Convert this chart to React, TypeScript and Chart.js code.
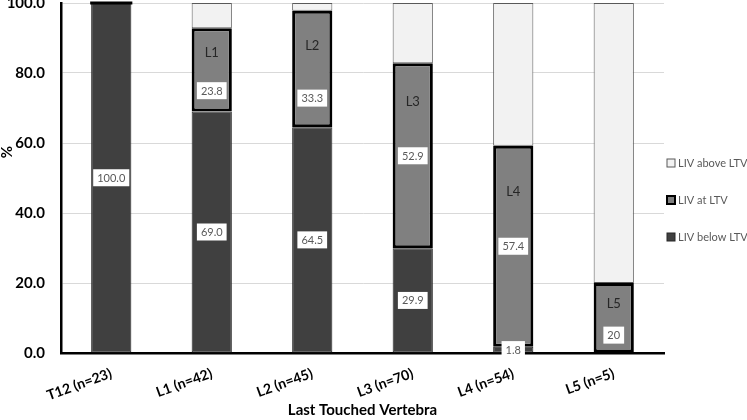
import React, { useEffect, useRef } from "react";
import { Chart, registerables } from "chart.js";

Chart.register(...registerables);

const categories = ["T12 (n=23)", "L1 (n=42)", "L2 (n=45)", "L3 (n=70)", "L4 (n=54)", "L5 (n=5)"];
const livBelow = [100.0, 69.0, 64.5, 29.9, 1.8, 0];
const livAt = [0, 23.8, 33.3, 52.9, 57.4, 20];
const livAbove = [0, 7.2, 2.2, 17.2, 40.8, 80];
const levelNames = ["", "L1", "L2", "L3", "L4", "L5"];
const belowText = ["100.0", "69.0", "64.5", "29.9", "1.8", ""];
const atText = ["", "23.8", "33.3", "52.9", "57.4", "20"];
const yTicks = [0, 20, 40, 60, 80, 100];
const seriesNames = ["LIV below LTV", "LIV at LTV", "LIV above LTV"];
const yTitle = "%";
const xTitle = "Last Touched Vertebra";

const FONT = "Lato, 'Open Sans', 'DejaVu Sans', sans-serif";

const annotate = {
  id: "annotate",
  afterDatasetsDraw(chart: any) {
    const ctx = chart.ctx;
    const below = chart.getDatasetMeta(0).data;
    const at = chart.getDatasetMeta(1).data;
    ctx.save();
    at.forEach((el: any, i: number) => {
      if (livAt[i] === 0) {
        const { x, y, width } = el.getProps(["x", "y", "width"], true);
        ctx.strokeStyle = "#000";
        ctx.lineWidth = 3;
        ctx.beginPath();
        ctx.moveTo(x - width / 2 - 1, y);
        ctx.lineTo(x + width / 2 + 1, y);
        ctx.stroke();
      }
    });
    const box = (text: string, x: number, y: number) => {
      ctx.font = `11px ${FONT}`;
      const w = ctx.measureText(text).width + 8;
      const h = 17;
      ctx.fillStyle = "#ffffff";
      ctx.fillRect(x - w / 2, y - h / 2, w, h);
      ctx.fillStyle = "#595959";
      ctx.textAlign = "center";
      ctx.textBaseline = "middle";
      ctx.fillText(text, x, y + 0.5);
    };
    below.forEach((el: any, i: number) => {
      if (!belowText[i]) return;
      const { x, y, base } = el.getProps(["x", "y", "base"], true);
      box(belowText[i], x, (y + base) / 2);
    });
    at.forEach((el: any, i: number) => {
      if (!atText[i]) return;
      const { x, y, base } = el.getProps(["x", "y", "base"], true);
      const h = base - y;
      const c = (y + base) / 2;
      let vy: number, ly: number;
      if (h < 150) {
        vy = c + 0.25 * h;
        ly = c - 0.2 * h;
      } else {
        vy = c;
        ly = c - 54;
      }
      box(atText[i], x, vy);
      ctx.font = `13px ${FONT}`;
      ctx.fillStyle = "#262626";
      ctx.textAlign = "center";
      ctx.textBaseline = "middle";
      ctx.fillText(levelNames[i], x, ly);
    });
    ctx.restore();
  },
  afterDraw(chart: any) {
    const ctx = chart.ctx;
    const area = chart.chartArea;
    ctx.save();
    // y-axis title
    ctx.translate(7, 152);
    ctx.rotate(-Math.PI / 2);
    ctx.font = `bold 15px ${FONT}`;
    ctx.fillStyle = "#000";
    ctx.textAlign = "center";
    ctx.textBaseline = "middle";
    ctx.fillText(yTitle, 0, 0);
    ctx.restore();

    // legend (reverse dataset order)
    ctx.save();
    const order = [2, 1, 0];
    const cy = chart.height / 2 - 10;
    const step = 37;
    const x0 = area.right + 3;
    order.forEach((di, k) => {
      const ds = chart.data.datasets[di];
      const y = cy + (k - 1) * step;
      ctx.fillStyle = ds.backgroundColor;
      ctx.fillRect(x0, y - 4, 8, 8);
      ctx.strokeStyle = ds.borderColor;
      ctx.lineWidth = di === 1 ? 2 : 1;
      ctx.strokeRect(x0, y - 4, 8, 8);
      ctx.font = `11px ${FONT}`;
      ctx.fillStyle = "#595959";
      ctx.textAlign = "left";
      ctx.textBaseline = "middle";
      ctx.fillText(ds.label, x0 + 11, y + 0.5);
    });
    ctx.restore();
  },
};

export default function App() {
  const ref = useRef<HTMLCanvasElement | null>(null);
  useEffect(() => {
    if (!ref.current) return;
    const chart = new Chart(ref.current, {
      type: "bar",
      data: {
        labels: categories,
        datasets: [
          {
            label: seriesNames[0],
            data: livBelow,
            backgroundColor: "#404040",
            borderColor: "#262626",
            borderWidth: 1,
            borderSkipped: false,
          },
          {
            label: seriesNames[1],
            data: livAt,
            backgroundColor: "#808080",
            borderColor: "#000000",
            borderWidth: 3,
            borderSkipped: false,
          },
          {
            label: seriesNames[2],
            data: livAbove,
            backgroundColor: "#f2f2f2",
            borderColor: "#595959",
            borderWidth: 1,
            borderSkipped: false,
          },
        ],
      },
      options: {
        animation: false,
        responsive: true,
        maintainAspectRatio: false,
        layout: { padding: { top: 3, right: 83, left: 0, bottom: 0 } },
        datasets: { bar: { barPercentage: 0.4, categoryPercentage: 1 } },
        plugins: { legend: { display: false }, tooltip: { enabled: false } },
        scales: {
          x: {
            stacked: true,
            grid: { display: false, drawTicks: false },
            border: { display: true, color: "#000", width: 2.5 },
            ticks: {
              minRotation: 20,
              maxRotation: 20,
              autoSkip: false,
              color: "#000",
              padding: 12,
              font: { family: FONT, size: 14, weight: "bold" },
            },
            title: {
              display: true,
              text: xTitle,
              color: "#000",
              font: { family: FONT, size: 15, weight: "bold" },
              padding: { top: 0, bottom: 1 },
            },
            afterFit(s: any) {
              s.height = 67;
              s.paddingLeft = 0;
              s.paddingRight = 0;
            },
          },
          y: {
            stacked: true,
            min: 0,
            max: 100,
            afterBuildTicks(s: any) {
              s.ticks = yTicks.map((v) => ({ value: v }));
            },
            ticks: {
              color: "#000",
              padding: 16,
              font: { family: FONT, size: 15, weight: "bold" },
              callback: (v: any) => Number(v).toFixed(1),
            },
            grid: { color: "#d9d9d9", drawTicks: false, lineWidth: 1 },
            border: { color: "#000", width: 2.5 },
            afterFit(s: any) {
              s.width = 61;
              s.paddingTop = 0;
              s.paddingBottom = 0;
            },
          },
        },
      },
      plugins: [annotate],
    } as any);
    return () => chart.destroy();
  }, []);
  return (
    <div style={{ position: "fixed", left: 0, top: 0, width: 747, height: 420, background: "#fff" }}>
      <canvas ref={ref} />
    </div>
  );
}
